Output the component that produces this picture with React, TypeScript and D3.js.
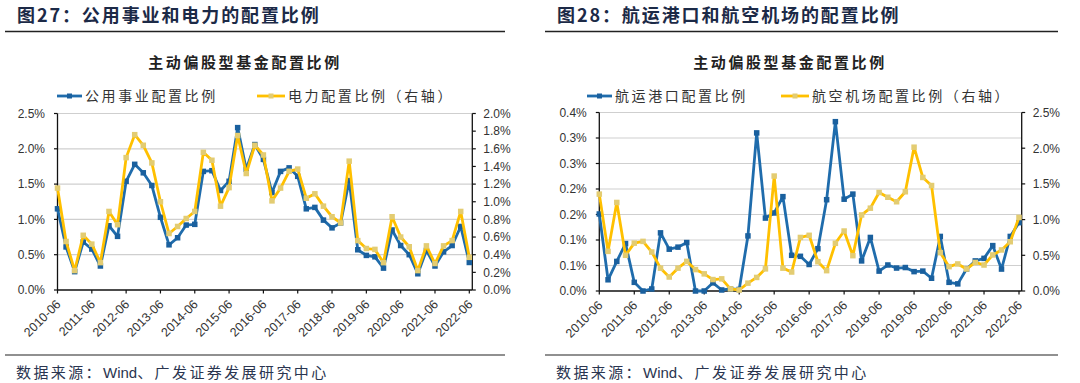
import React from 'react';
import * as d3 from 'd3';

// ---------- categories ----------
const quarters: string[] = [];
d3.range(2010, 2023).forEach((y) =>
  ['03', '06', '09', '12'].forEach((m) => {
    const s = `${y}-${m}`;
    if (s >= '2010-06' && s <= '2022-06') quarters.push(s);
  })
);
const tickLabels = quarters.filter((q) => q.endsWith('-06'));

// ---------- panel 1 data ----------
const utilities = [1.15, 0.61, 0.26, 0.68, 0.58, 0.34, 0.91, 0.76, 1.54, 1.78, 1.66, 1.48, 1.03, 0.64, 0.74, 0.92, 0.93, 1.68, 1.69, 1.41, 1.54, 2.3, 1.71, 2.06, 1.85, 1.38, 1.68, 1.73, 1.61, 1.15, 1.17, 0.99, 0.88, 0.95, 1.55, 0.57, 0.49, 0.47, 0.31, 0.85, 0.63, 0.5, 0.23, 0.56, 0.34, 0.54, 0.63, 0.9, 0.39];
const power = [1.155, 0.55, 0.22, 0.62, 0.52, 0.31, 0.89, 0.74, 1.5, 1.76, 1.64, 1.44, 1.0, 0.64, 0.72, 0.81, 0.89, 1.56, 1.47, 0.95, 1.16, 1.75, 1.32, 1.64, 1.53, 1.01, 1.155, 1.345, 1.37, 1.04, 1.09, 0.95, 0.83, 0.76, 1.46, 0.56, 0.47, 0.46, 0.31, 0.83, 0.6, 0.49, 0.22, 0.5, 0.3, 0.5, 0.56, 0.89, 0.37];
const p1LeftTicks = [0, 0.5, 1.0, 1.5, 2.0, 2.5];
const p1LeftLabels = ['0.0%', '0.5%', '1.0%', '1.5%', '2.0%', '2.5%'];
const p1RightTicks = [0, 0.2, 0.4, 0.6, 0.8, 1.0, 1.2, 1.4, 1.6, 1.8, 2.0];
const p1RightLabels = ['0.0%', '0.2%', '0.4%', '0.6%', '0.8%', '1.0%', '1.2%', '1.4%', '1.6%', '1.8%', '2.0%'];

// ---------- panel 2 data ----------
const shipping = [0.151, 0.022, 0.058, 0.093, 0.017, 0.0, 0.004, 0.114, 0.082, 0.086, 0.095, 0.0, 0.0, 0.016, 0.002, 0.004, 0.003, 0.108, 0.31, 0.143, 0.153, 0.185, 0.07, 0.068, 0.052, 0.083, 0.179, 0.332, 0.18, 0.19, 0.059, 0.105, 0.039, 0.051, 0.045, 0.046, 0.038, 0.039, 0.025, 0.107, 0.017, 0.014, 0.043, 0.059, 0.064, 0.089, 0.043, 0.107, 0.134];
const airports = [1.357, 0.555, 1.24, 0.5, 0.67, 0.695, 0.546, 0.32, 0.196, 0.32, 0.415, 0.3, 0.24, 0.16, 0.17, 0.03, 0.014, 0.11, 0.19, 0.31, 1.61, 0.32, 0.266, 0.75, 0.78, 0.41, 0.285, 0.668, 0.84, 0.495, 1.065, 1.16, 1.38, 1.313, 1.25, 1.39, 2.014, 1.59, 1.477, 0.537, 0.341, 0.379, 0.308, 0.4, 0.364, 0.505, 0.575, 0.69, 1.03];
const p2LeftTicks = [0, 0.05, 0.1, 0.15, 0.2, 0.25, 0.3, 0.35];
const p2LeftLabels = ['0.0%', '0.1%', '0.1%', '0.2%', '0.2%', '0.3%', '0.3%', '0.4%'];
const p2RightTicks = [0, 0.5, 1.0, 1.5, 2.0, 2.5];
const p2RightLabels = ['0.0%', '0.5%', '1.0%', '1.5%', '2.0%', '2.5%'];

const BLUE = '#1f6cac';
const BLUE_M = '#1a609e';
const GOLD = '#ffc000';
const GOLD_M = '#e3cc72';
const FONT = "'Liberation Sans', Arial, 'Noto Sans CJK SC', sans-serif";
const CJK = "'Noto Sans CJK SC', 'Liberation Sans', sans-serif";

type PanelProps = {
  x0: number;
  x1: number;
  title: string;
  subtitle: string;
  subCx: number;
  axL: number;
  axR: number;
  lastX: number;
  top: number;
  bottom: number;
  leftMax: number;
  rightMax: number;
  leftTicks: number[];
  leftLabels: string[];
  rightTicks: number[];
  rightLabels: string[];
  blue: number[];
  gold: number[];
  blueName: string;
  goldName: string;
  leg1: number;
  leg2: number;
};

function Panel(p: PanelProps) {
  const x = d3.scaleLinear().domain([0, quarters.length - 1]).range([p.axL, p.lastX]);
  const yL = d3.scaleLinear().domain([0, p.leftMax]).range([p.bottom, p.top]);
  const yR = d3.scaleLinear().domain([0, p.rightMax]).range([p.bottom, p.top]);
  const lineB = d3.line<number>().x((_, i) => x(i)).y((d) => yL(d));
  const lineG = d3.line<number>().x((_, i) => x(i)).y((d) => yR(d));
  const ms = 5.5;
  const legY = 96;
  return (
    <g>
      <text x={p.x0 + 12} y={22} fontFamily={CJK} fontSize={18} fontWeight={700} fill="#1c2a47" letterSpacing={1.9}>
        {p.title}
      </text>
      <line x1={p.x0} x2={p.x1} y1={31.5} y2={31.5} stroke="#222" strokeWidth={1.3} />
      <text x={p.subCx} y={68} textAnchor="middle" fontFamily={CJK} fontSize={15} fontWeight={700} fill="#222" letterSpacing={2.6}>
        {p.subtitle}
      </text>
      {/* legend */}
      <line x1={p.leg1} x2={p.leg1 + 25} y1={legY} y2={legY} stroke={BLUE} strokeWidth={2.8} />
      <rect x={p.leg1 + 12.5 - 2.5} y={legY - 2.5} width={5} height={5} fill={BLUE_M} />
      <text x={p.leg1 + 28} y={legY + 5} fontFamily={CJK} fontSize={14} fill="#333" letterSpacing={2.6}>
        {p.blueName}
      </text>
      <line x1={p.leg2} x2={p.leg2 + 28} y1={legY} y2={legY} stroke={GOLD} strokeWidth={2.8} />
      <rect x={p.leg2 + 14 - 2.5} y={legY - 2.5} width={5} height={5} fill={GOLD_M} />
      <text x={p.leg2 + 31} y={legY + 5} fontFamily={CJK} fontSize={14} fill="#333" letterSpacing={2.6}>
        {p.goldName}
      </text>
      {/* gridlines */}
      {p.leftTicks.slice(1).map((t) => (
        <line key={'g' + t} x1={p.axL} x2={p.axR} y1={yL(t)} y2={yL(t)} stroke="#cfcfcf" strokeWidth={1.2} />
      ))}
      {/* left axis */}
      <line x1={p.axL} x2={p.axL} y1={p.top} y2={p.bottom} stroke="#111" strokeWidth={1.3} />
      {p.leftTicks.map((t, i) => (
        <g key={'l' + i}>
          <line x1={p.axL - 3.5} x2={p.axL} y1={yL(t)} y2={yL(t)} stroke="#111" strokeWidth={1.2} />
          <text x={p.axL - 12.5} y={yL(t) + 4.3} textAnchor="end" fontFamily={FONT} fontSize={12} fill="#333">
            {p.leftLabels[i]}
          </text>
        </g>
      ))}
      {/* right axis */}
      <line x1={p.axR} x2={p.axR} y1={p.top} y2={p.bottom} stroke="#111" strokeWidth={1.3} />
      {p.rightTicks.map((t, i) => (
        <g key={'r' + i}>
          <line x1={p.axR} x2={p.axR + 3.5} y1={yR(t)} y2={yR(t)} stroke="#111" strokeWidth={1.2} />
          <text x={p.axR + 11} y={yR(t) + 4.3} textAnchor="start" fontFamily={FONT} fontSize={12} fill="#333">
            {p.rightLabels[i]}
          </text>
        </g>
      ))}
      {/* x axis */}
      <line x1={p.axL} x2={p.axR} y1={p.bottom} y2={p.bottom} stroke="#111" strokeWidth={1.3} />
      {quarters.map((q, i) =>
        q.endsWith('-06') ? (
          <g key={q}>
            <line x1={x(i)} x2={x(i)} y1={p.bottom} y2={p.bottom + 3.5} stroke="#111" strokeWidth={1.2} />
            <text
              transform={`translate(${x(i) + 4},${p.bottom + 15}) rotate(-45)`}
              textAnchor="end"
              fontFamily={FONT}
              fontSize={12.5}
              fill="#333"
            >
              {tickLabels[tickLabels.indexOf(q)]}
            </text>
          </g>
        ) : null
      )}
      {/* series */}
      <path d={lineB(p.blue) || ''} fill="none" stroke={BLUE} strokeWidth={2.8} strokeLinejoin="round" />
      {p.blue.map((d, i) => (
        <rect key={'b' + i} x={x(i) - ms / 2} y={yL(d) - ms / 2} width={ms} height={ms} fill={BLUE_M} />
      ))}
      <path d={lineG(p.gold) || ''} fill="none" stroke={GOLD} strokeWidth={2.8} strokeLinejoin="round" />
      {p.gold.map((d, i) => (
        <rect key={'y' + i} x={x(i) - ms / 2} y={yR(d) - ms / 2} width={ms} height={ms} fill={GOLD_M} />
      ))}
      {/* footer */}
      <line x1={p.x0} x2={p.x1} y1={355} y2={355} stroke="#222" strokeWidth={1.2} />
      <text x={p.x0 + 11} y={378} fontFamily={CJK} fontSize={15} fill="#2a3550">
        <tspan letterSpacing={2.4}>数据来源：</tspan>
        <tspan fontFamily={FONT}>Wind</tspan>
        <tspan letterSpacing={2.4}>、广发证券发展研究中心</tspan>
      </text>
    </g>
  );
}

export default function App() {
  return (
    <svg width={1080} height={383} style={{ position: 'absolute', left: 0, top: 0, background: '#fff' }}>
      <rect width={1080} height={383} fill="#fff" />
      <Panel
        x0={5}
        x1={505}
        title="图27：公用事业和电力的配置比例"
        subtitle="主动偏股型基金配置比例"
        subCx={245}
        axL={57.5}
        axR={472.3}
        lastX={469.3}
        top={113.5}
        bottom={290}
        leftMax={2.5}
        rightMax={2.0}
        leftTicks={p1LeftTicks}
        leftLabels={p1LeftLabels}
        rightTicks={p1RightTicks}
        rightLabels={p1RightLabels}
        blue={utilities}
        gold={power}
        blueName="公用事业配置比例"
        goldName="电力配置比例（右轴）"
        leg1={57}
        leg2={257}
      />
      <Panel
        x0={545}
        x1={1058}
        title="图28：航运港口和航空机场的配置比例"
        subtitle="主动偏股型基金配置比例"
        subCx={790}
        axL={599.3}
        axR={1021.7}
        lastX={1019}
        top={112.5}
        bottom={291}
        leftMax={0.35}
        rightMax={2.5}
        leftTicks={p2LeftTicks}
        leftLabels={p2LeftLabels}
        rightTicks={p2RightTicks}
        rightLabels={p2RightLabels}
        blue={shipping}
        gold={airports}
        blueName="航运港口配置比例"
        goldName="航空机场配置比例（右轴）"
        leg1={587}
        leg2={781}
      />
    </svg>
  );
}
